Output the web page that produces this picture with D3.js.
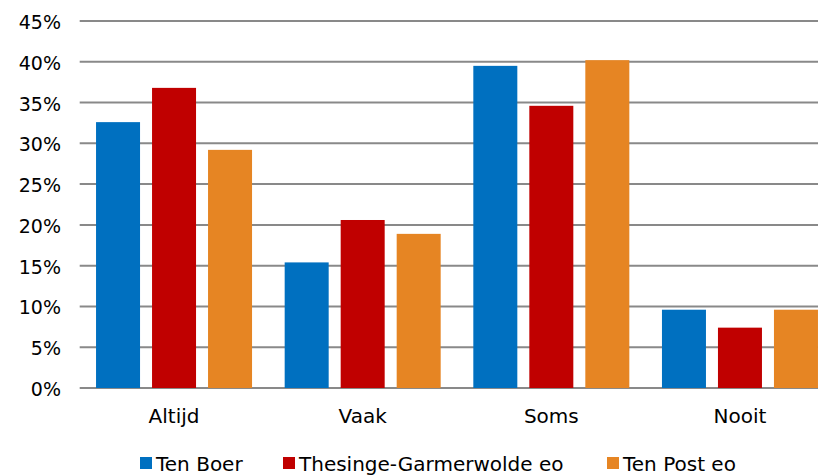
<!DOCTYPE html>
<html>
<head>
<meta charset="utf-8">
<script src="https://cdn.jsdelivr.net/npm/d3@7"></script>
<style>
  body { margin: 0; background: #fff; }
  text { font-family: "DejaVu Sans", "Liberation Sans", Arial, sans-serif; fill: #000; }
</style>
</head>
<body>
<div id="chart-container"></div>
<script>
// data
const categories = ["Altijd", "Vaak", "Soms", "Nooit"];
const series = ["Ten Boer", "Thesinge-Garmerwolde eo", "Ten Post eo"];
const tenBoer = [0.326, 0.154, 0.395, 0.096];
const thesinge = [0.368, 0.206, 0.346, 0.074];
const tenPost = [0.292, 0.189, 0.402, 0.096];
const yTicks = [0, 0.05, 0.10, 0.15, 0.20, 0.25, 0.30, 0.35, 0.40, 0.45];
const colors = ["#0070C0", "#C00000", "#E68523"];

const values = [tenBoer, thesinge, tenPost];

chart = {
  "width": 818, "height": 476,
  "scale": {
    "x0": d3.scaleBand(),
    "x1": d3.scaleBand(),
    "y": d3.scaleLinear(),
    "color": d3.scaleOrdinal()
  },
  "margin": { "top": 21, "bottom": 88, "left": 79.7, "right": -16.3 }
};

function drawChart(){
  let m = chart.margin;
  chart.scale.x0.domain(categories)
    .range([m.left, chart.width - m.right])
    .paddingInner(0.173).paddingOuter(0.0866);
  chart.scale.x1.domain(series)
    .range([0, chart.scale.x0.bandwidth()])
    .paddingInner(12 / 56);
  chart.scale.y.domain([0, 0.45]).range([chart.height - m.bottom, m.top]);
  chart.scale.color.domain(series).range(colors);

  let svg = d3.select("#chart-container").append("svg")
    .attr("width", chart.width).attr("height", chart.height);

  // gridlines
  svg.append("g").attr("id", "grid")
    .selectAll("line")
    .data(yTicks)
    .enter()
    .append("line")
    .attr("x1", m.left)
    .attr("x2", chart.width - m.right)
    .attr("y1", d => chart.scale.y(d))
    .attr("y2", d => chart.scale.y(d))
    .attr("stroke", "#898989")
    .attr("stroke-width", 2);

  // y labels
  svg.append("g").attr("id", "y-labels")
    .selectAll("text")
    .data(yTicks)
    .enter()
    .append("text")
    .attr("x", 61)
    .attr("y", d => chart.scale.y(d) + 8)
    .attr("text-anchor", "end")
    .style("font-size", "19px")
    .text(d => Math.round(d * 100) + "%");

  // bars
  let groups = svg.append("g").attr("id", "bars")
    .selectAll(".category")
    .data(categories)
    .enter()
    .append("g")
    .attr("class", "category")
    .attr("transform", d => "translate(" + chart.scale.x0(d) + ",0)");

  groups.selectAll("rect")
    .data((cat, i) => series.map((s, j) => ({ "series": s, "value": values[j][i] })))
    .enter()
    .append("rect")
    .attr("x", d => chart.scale.x1(d.series))
    .attr("width", chart.scale.x1.bandwidth())
    .attr("y", d => chart.scale.y(d.value))
    .attr("height", d => chart.scale.y(0) - chart.scale.y(d.value))
    .attr("fill", d => chart.scale.color(d.series));

  // category labels
  svg.append("g").attr("id", "x-labels")
    .selectAll("text")
    .data(categories)
    .enter()
    .append("text")
    .attr("x", d => chart.scale.x0(d) + chart.scale.x0.bandwidth() / 2)
    .attr("y", 423)
    .attr("text-anchor", "middle")
    .style("font-size", "20px")
    .text(d => d);

  // legend
  let legendX = [140, 283, 607];
  let legend = svg.append("g").attr("id", "legend")
    .selectAll("g")
    .data(series)
    .enter()
    .append("g")
    .attr("transform", (d, i) => "translate(" + legendX[i] + ",457)");
  legend.append("rect")
    .attr("width", 12).attr("height", 12)
    .attr("fill", d => chart.scale.color(d));
  legend.append("text")
    .attr("x", 16).attr("y", 14)
    .style("font-size", "20px")
    .text(d => d);
}

drawChart();
</script>
</body>
</html>
